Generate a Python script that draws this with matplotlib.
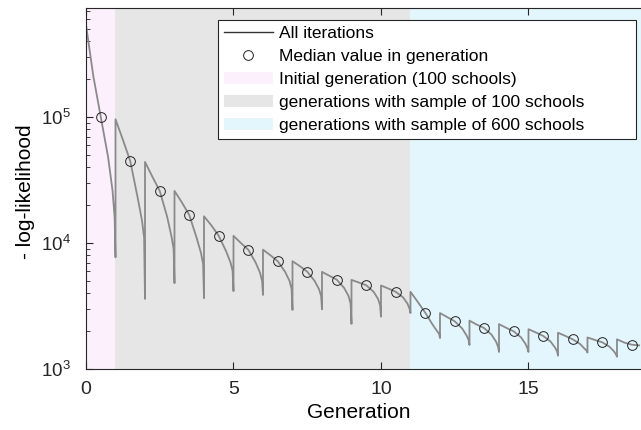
import numpy as np
import matplotlib
matplotlib.use('Agg')
import matplotlib.pyplot as plt
from matplotlib.patches import Patch, Rectangle
from matplotlib.lines import Line2D

plt.rcParams['font.family'] = ['Liberation Sans', 'DejaVu Sans']

# generation index and position of each recorded iteration inside a generation
generations = list(range(19))
iter_frac = [0, 0.25, 0.5, 0.75, 0.9, 0.97, 1.0]

# -log-likelihood values along each generation
gen_curves = [
    [540000, 210000, 100000, 48000, 26000, 16000, 7700],
    [96000, 66000, 44700, 23000, 15000, 11000, 3600],
    [44000, 33600, 25900, 16200, 11200, 9000, 4800],
    [25900, 21000, 16700, 11000, 8300, 6800, 3650],
    [16300, 13800, 11400, 8600, 7000, 6000, 4150],
    [11400, 10000, 8850, 7000, 5800, 5000, 3870],
    [8850, 8000, 7170, 5900, 5000, 4300, 2940],
    [7170, 6550, 5920, 5000, 4300, 3800, 2980],
    [5900, 5500, 5120, 4400, 3800, 3300, 2280],
    [5100, 4850, 4620, 4100, 3600, 3200, 2600],
    [4600, 4350, 4100, 3700, 3300, 3000, 2780],
    [4100, 3400, 2800, 2250, 2000, 1900, 1760],
    [2780, 2580, 2390, 2100, 1850, 1700, 1550],
    [2420, 2250, 2110, 1870, 1650, 1500, 1365],
    [2270, 2120, 1990, 1780, 1580, 1450, 1365],
    [2070, 1950, 1830, 1650, 1480, 1380, 1275],
    [1940, 1830, 1720, 1580, 1450, 1400, 1350],
    [1780, 1700, 1630, 1500, 1380, 1300, 1250],
    [1720, 1620, 1560, 1540],
]

median_x = [0.5, 1.5, 2.5, 3.5, 4.5, 5.5, 6.5, 7.5, 8.5, 9.5, 10.5,
            11.5, 12.5, 13.5, 14.5, 15.5, 16.5, 17.5, 18.5]
median_vals = [100000, 44700, 25900, 16700, 11400, 8850, 7170, 5920, 5120,
               4620, 4100, 2800, 2390, 2110, 1990, 1830, 1720, 1630, 1550]

it_x, it_y = [], []
for g, vals in zip(generations, gen_curves):
    for f, v in zip(iter_frac, vals):
        it_x.append(g + f)
        it_y.append(v)

fig = plt.figure(figsize=(6.41, 4.30), dpi=100)
ax = fig.add_axes([86/641, 61/430, 559/641, 361.5/430])

pink = '#fcf0fc'
grey = '#e6e6e6'
blue = '#e4f6fd'
ax.axvspan(0, 1, color=pink, lw=0)
ax.axvspan(1, 11, color=grey, lw=0)
ax.axvspan(11, 19, color=blue, lw=0)

ax.plot(it_x, it_y, color='#8a8a8a', lw=1.3)
ax.plot(median_x, median_vals, 'o', ms=7, mfc='none', mec='#222222', mew=0.7)

ax.set_yscale('log')
ax.set_xlim(0, 18.95)
ax.set_ylim(1e3, 7.4e5)
ax.set_xticks([0, 5, 10, 15])

for s in ax.spines.values():
    s.set_color('#262626')
    s.set_linewidth(0.8)
ax.tick_params(which='both', direction='in', top=True, right=False, colors='#262626')
ax.tick_params(which='major', length=5)
ax.tick_params(which='minor', length=3)
ax.tick_params(axis='x', labelsize=14, pad=9)
ax.tick_params(axis='y', labelsize=13.5, pad=11)
ax.tick_params(axis='x', which='minor', top=False, bottom=False)

ax.set_xlabel('Generation', fontsize=15)
ax.set_ylabel('- log-likelihood', fontsize=15)
ax.xaxis.set_label_coords((359 - 86) / 559, -(403 - 369) / 361.5)
ax.yaxis.set_label_coords((35 - 86) / 559, (369 - 192) / 361.5)

# legend box (MATLAB style: wide with extra room on the right)
box = Rectangle((218/641, 1 - 139/430), (636 - 218)/641, (139 - 20)/430,
                transform=fig.transFigure, facecolor='white',
                edgecolor='#262626', lw=0.8, zorder=4)
fig.patches.append(box)

handles = [
    Line2D([], [], color='#333333', lw=1),
    Line2D([], [], ls='none', marker='o', ms=7, mfc='none', mec='#222222', mew=0.7),
    Patch(facecolor=pink, edgecolor='none'),
    Patch(facecolor=grey, edgecolor='none'),
    Patch(facecolor=blue, edgecolor='none'),
]
labels = ['All iterations', 'Median value in generation',
          'Initial generation (100 schools)',
          'generations with sample of 100 schools',
          'generations with sample of 600 schools']
leg = fig.legend(handles, labels, loc='upper left',
                 bbox_to_anchor=(224/641, 1 - 26/430),
                 fontsize=12.5, frameon=False,
                 borderaxespad=0, borderpad=0.0, labelspacing=0.43,
                 handlelength=2.8, handletextpad=0.35, handleheight=0.75)
leg.set_zorder(5)

fig.savefig('out.png', dpi=100)
